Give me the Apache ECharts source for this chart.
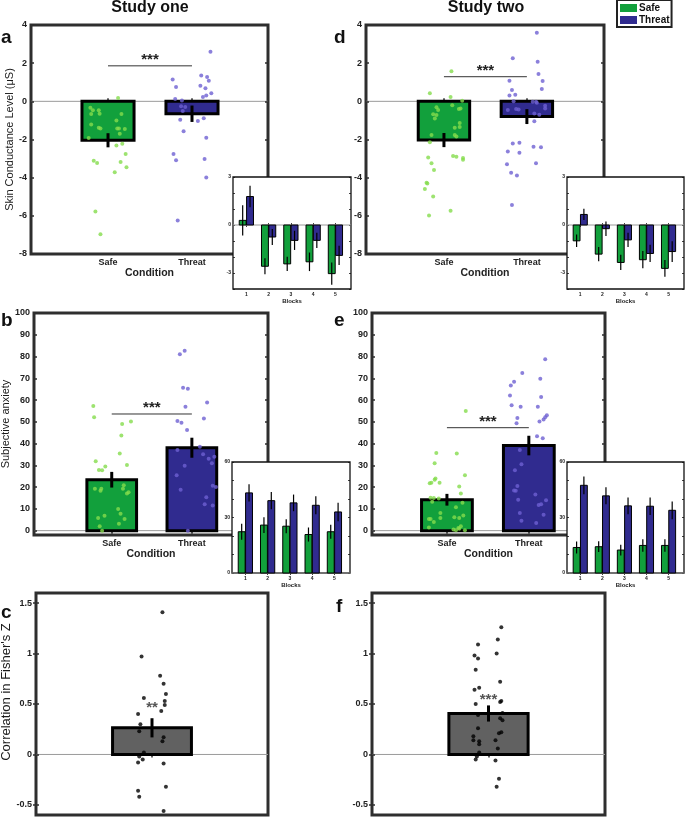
<!DOCTYPE html>
<html><head><meta charset="utf-8">
<script src="https://cdn.jsdelivr.net/npm/echarts@6/dist/echarts.min.js"></script>
<style>html,body{margin:0;padding:0;background:#fff}#c{width:685px;height:817px}</style>
</head><body><div id="c"></div><script>
// ---------- DATA ----------
const condLabels = ['Safe', 'Threat'];
const condX = [1, 2];
const blocks = [1, 2, 3, 4, 5];
const baseline = [0];

// Panel a / d : skin conductance (means, SEM)
const scrMean1 = [-2.04, -0.65], scrErr1 = [0.37, 0.43];
const scrMean2 = [-2.03, -0.80], scrErr2 = [0.37, 0.39];
// Panel b / e : subjective anxiety
const anxMean1 = [23.4, 38.1], anxErr1 = [3.6, 4.6];
const anxMean2 = [14.2, 39.1], anxErr2 = [2.7, 4.5];
// Panel c / f : correlation (Fisher's Z)
const corrMean1 = [0.264], corrErr1 = [0.095];
const corrMean2 = [0.406], corrErr2 = [0.08];

// Block insets
const scrBlkSafe1 = [0.29, -2.58, -2.43, -2.30, -3.04], scrBlkSafeErr1 = [0.95, 0.5, 0.45, 0.58, 0.7];
const scrBlkThreat1 = [1.78, -0.75, -0.96, -0.96, -1.90], scrBlkThreatErr1 = [0.67, 0.5, 0.6, 0.47, 0.6];
const scrBlkSafe2 = [-0.99, -1.82, -2.34, -2.17, -2.71], scrBlkSafeErr2 = [0.39, 0.45, 0.48, 0.54, 0.53];
const scrBlkThreat2 = [0.66, -0.23, -0.93, -1.78, -1.66], scrBlkThreatErr2 = [0.35, 0.45, 0.45, 0.54, 0.65];
const anxBlkSafe1 = [22.3, 25.9, 25.3, 20.8, 22.3], anxBlkSafeErr1 = [4.3, 4.3, 3.8, 3.8, 3.8];
const anxBlkThreat1 = [43.3, 39.1, 37.9, 36.6, 33.0], anxBlkThreatErr1 = [4.7, 4.7, 4.5, 4.9, 5.0];
const anxBlkSafe2 = [13.8, 14.2, 12.4, 14.9, 14.9], anxBlkSafeErr2 = [3.2, 2.9, 2.9, 3.4, 3.4];
const anxBlkThreat2 = [47.4, 41.7, 36.3, 36.1, 33.9], anxBlkThreatErr2 = [4.8, 4.6, 4.5, 4.7, 4.8];

// Significance lines (level) and marks
const sigLevel = { a: 1.86, d: 1.29, b: 53.6, e: 47.3 };
const sigText = '***';
const corrStarY = [0.49, 0.57];
const corrStars = ['**', '***'];

// Tick values
const scrTicks = [-8, -6, -4, -2, 0, 2, 4];
const anxTicks = [0, 10, 20, 30, 40, 50, 60, 70, 80, 90, 100];
const corrTicks = [-0.5, 0, 0.5, 1, 1.5];
const blkScrTicks = [-4, -3, -2, -1, 0, 1, 2, 3];
const blkScrLabels = [-3, 0, 3];
const blkAnxTicks = [0, 10, 20, 30, 40, 50, 60];
const blkAnxLabels = [0, 30, 60];

// Individual participants [jittered x, value]
const ptsSafeA = [[1.12,0.17],[0.79,-0.33],[0.82,-0.47],[0.89,-0.47],[0.80,-0.66],[0.90,-0.65],[1.16,-0.66],[1.10,-1.0],[0.80,-1.22],[0.89,-1.38],[0.91,-1.42],[1.11,-1.43],[1.13,-1.43],[1.20,-1.45],[1.14,-1.70],[0.77,-1.92],[1.17,-2.22],[1.10,-2.31],[1.21,-2.76],[0.83,-3.11],[0.87,-3.23],[1.15,-3.18],[1.22,-3.46],[1.08,-3.72],[0.85,-5.77],[0.91,-6.96]];
const ptsThreatA = [[2.22,2.60],[2.11,1.35],[1.77,1.14],[2.18,1.28],[2.20,1.08],[1.81,0.75],[2.10,0.82],[2.16,0.68],[2.23,0.42],[2.17,0.30],[2.13,0.23],[1.80,0.12],[1.88,0.05],[1.87,-0.26],[1.92,-0.30],[1.89,-0.51],[1.86,-0.96],[2.14,-0.89],[2.07,-1.03],[1.90,-1.57],[2.17,-1.91],[1.78,-2.76],[1.81,-3.09],[2.15,-3.02],[2.17,-3.99],[1.83,-6.24]];
const ptsSafeD = [[1.09,1.57],[0.83,0.43],[1.08,0.23],[1.22,0.03],[1.10,-0.21],[0.91,-0.31],[0.93,-0.45],[1.20,-0.37],[1.18,-0.40],[0.87,-0.68],[0.91,-0.71],[0.89,-0.90],[1.19,-1.13],[1.19,-1.34],[1.13,-1.39],[1.13,-1.77],[1.15,-1.84],[0.85,-1.77],[0.83,-2.14],[0.81,-2.94],[1.11,-2.87],[1.15,-2.90],[1.23,-2.97],[1.23,-3.06],[0.85,-3.25],[0.88,-3.60],[0.79,-4.26],[0.80,-4.31],[0.77,-4.59],[0.87,-4.99],[1.08,-5.74],[0.82,-5.98]];
const ptsThreatD = [[2.12,3.6],[1.83,2.26],[2.13,2.07],[2.14,1.43],[1.79,1.08],[2.19,1.06],[1.82,0.59],[2.18,0.64],[1.86,0.35],[1.79,0.30],[1.84,0.0],[2.07,-0.02],[2.11,-0.02],[2.12,-0.07],[2.22,-0.23],[2.22,-0.38],[1.77,-0.45],[1.87,-0.40],[1.90,-0.43],[2.09,-0.64],[2.15,-0.70],[2.09,-1.04],[1.83,-2.21],[1.91,-2.17],[1.77,-2.63],[1.91,-2.70],[2.08,-2.38],[2.17,-2.40],[2.11,-3.25],[1.76,-3.30],[1.81,-3.74],[1.88,-3.88],[1.82,-5.43]];
const ptsSafeB = [[0.77,57.3],[0.78,52.1],[1.24,50.1],[1.13,49.0],[1.12,43.7],[1.10,35.4],[0.80,31.9],[0.84,27.9],[0.88,27.8],[0.92,29.5],[1.19,30.2],[0.79,19.2],[0.87,19.2],[0.86,18.3],[1.15,20.9],[1.14,19.2],[1.21,17.6],[1.19,17.1],[1.08,9.9],[1.11,7.8],[0.91,6.9],[0.83,5.8],[1.16,5.3],[1.09,3.2],[0.85,2.0],[0.88,0.0]];
const ptsThreatB = [[1.91,82.6],[1.85,81.1],[1.89,65.6],[1.95,65.2],[2.19,58.9],[1.92,56.9],[2.15,51.5],[1.82,50.4],[1.87,49.6],[1.94,46.3],[2.10,38.6],[1.82,37.1],[2.14,35.1],[2.28,34.0],[2.21,33.0],[2.25,31.0],[1.91,29.8],[1.81,25.5],[2.26,20.6],[2.30,20.0],[1.86,18.8],[2.18,15.4],[2.16,12.1],[2.26,11.6],[1.95,0.0]];
const ptsSafeE = [[1.23,55.0],[0.87,35.7],[1.12,35.4],[0.85,31.0],[0.86,24.0],[0.85,23.4],[0.79,21.8],[0.81,22.0],[0.91,22.0],[1.22,25.5],[1.15,20.3],[1.17,17.1],[0.80,15.1],[0.84,15.0],[0.90,14.8],[0.82,13.3],[1.19,12.8],[0.92,8.1],[1.11,10.8],[1.20,7.0],[1.09,6.1],[0.78,5.3],[0.80,5.3],[0.92,5.8],[0.84,4.0],[1.15,5.8],[0.78,1.4],[1.17,2.0],[1.15,0.9],[1.08,0.5],[1.11,0.2],[1.22,0.2],[1.14,1.2]];
const ptsThreatE = [[2.20,78.8],[1.92,72.4],[1.82,68.4],[1.78,66.7],[2.14,69.8],[2.15,61.4],[1.77,62.1],[1.79,57.6],[1.90,56.9],[2.11,56.9],[1.86,51.8],[1.85,49.3],[2.22,53.0],[2.20,52.1],[2.18,51.1],[2.13,50.1],[2.10,43.4],[2.17,42.4],[1.89,37.1],[1.91,30.5],[1.83,27.8],[1.86,20.5],[1.82,18.5],[1.84,18.3],[1.87,14.2],[2.08,16.6],[2.21,14.0],[2.12,11.8],[2.15,12.1],[1.89,8.1],[2.18,7.3],[1.91,4.6],[2.09,3.5]];
const ptsC = [[1.09,1.41],[0.91,0.97],[1.07,0.78],[1.10,0.70],[1.12,0.60],[0.93,0.56],[1.11,0.53],[1.11,0.49],[1.08,0.43],[0.88,0.40],[0.90,0.30],[0.89,0.23],[1.10,0.17],[1.09,0.13],[0.93,0.02],[0.89,-0.02],[0.92,-0.05],[0.88,-0.08],[1.10,-0.09],[1.12,-0.32],[0.88,-0.36],[0.89,-0.42],[1.10,-0.56]];
const ptsF = [[1.11,1.26],[1.08,1.14],[0.91,1.09],[0.88,0.98],[0.91,0.95],[1.07,1.00],[0.89,0.84],[1.10,0.72],[0.92,0.66],[0.88,0.64],[1.11,0.53],[1.10,0.52],[0.89,0.50],[1.12,0.41],[0.91,0.39],[1.10,0.36],[1.12,0.34],[0.91,0.26],[1.11,0.22],[1.09,0.21],[0.87,0.18],[0.87,0.14],[0.92,0.13],[1.06,0.14],[0.92,0.10],[1.08,0.06],[0.92,0.02],[0.90,-0.02],[0.89,-0.05],[1.06,-0.06],[1.09,-0.24],[1.07,-0.32]];

// ---------- STYLE ----------
const FONT = '"Liberation Sans", Arial, Helvetica, sans-serif';
const GREEN = '#12a03c', BLUE = '#302b8f', GRAY = '#616161';
const GREEN_PT = '#84dc4c', BLUE_PT = '#6e60d2';
const BOX = '#2e2e2e';

const grids = [], xAxes = [], yAxes = [], series = [];

function addPanel(o) {
  const gi = grids.length;
  const inset = !!o.inset;
  grids.push({ left: o.left, top: o.top, width: o.width, height: o.height, show: true,
    backgroundColor: inset ? '#fff' : 'rgba(0,0,0,0)', borderColor: inset ? '#111' : BOX,
    borderWidth: inset ? 1.3 : 3, z: inset ? 10 : 0, outerBoundsMode: 'none', containLabel: false });
  const z = inset ? 11 : 1;
  const ts = { color: inset ? '#111' : BOX, width: inset ? 0.8 : 1.5 };
  const tl = inset ? 2 : 3;
  const lblFs = inset ? 5 : 9;
  const xi = xAxes.length;
  xAxes.push({ type: 'value', gridIndex: gi, position: 'bottom', min: o.xmin, max: o.xmax, z,
    axisLine: { show: false }, splitLine: { show: false },
    axisTick: { show: true, inside: true, length: tl, lineStyle: ts, customValues: o.xTicks },
    axisLabel: { show: !!o.xLabels, customValues: o.xLabels || [], formatter: o.xFmt || (v => String(v)),
      fontFamily: FONT, fontSize: lblFs, fontWeight: 'bold', color: '#222', margin: inset ? 3 : 4 },
    name: o.xName || '', nameLocation: 'middle', nameGap: inset ? 8 : 13,
    nameTextStyle: { fontFamily: FONT, fontSize: inset ? 6 : 10.5, fontWeight: 'bold', color: '#222' } });
  xAxes.push({ type: 'value', gridIndex: gi, position: 'top', min: o.xmin, max: o.xmax, z,
    axisLine: { show: false }, splitLine: { show: false },
    axisTick: { show: true, inside: true, length: tl, lineStyle: ts, customValues: o.xTicks },
    axisLabel: { show: false } });
  const yi = yAxes.length;
  yAxes.push({ type: 'value', gridIndex: gi, position: 'left', min: o.ymin, max: o.ymax, z,
    axisLine: { show: false }, splitLine: { show: false },
    axisTick: { show: true, inside: true, length: tl, lineStyle: ts, customValues: o.yTicks },
    axisLabel: { customValues: o.yLabels, formatter: v => String(v), fontFamily: FONT, fontSize: lblFs,
      fontWeight: 'bold', color: '#222', margin: inset ? 2 : 4 },
    name: o.yName || '', nameLocation: 'middle', nameGap: o.yNameGap || 12, nameRotate: 90,
    nameTextStyle: { fontFamily: FONT, fontSize: o.yNameFs || 11, color: '#1a1a1a', padding: o.yNamePad || 0 } });
  yAxes.push({ type: 'value', gridIndex: gi, position: 'right', min: o.ymin, max: o.ymax, z,
    axisLine: { show: false }, splitLine: { show: false },
    axisTick: { show: true, inside: true, length: tl, lineStyle: ts, customValues: o.yTicks },
    axisLabel: { show: false } });
  return { xi, yi, inset };
}

function barRender(halfW, fill, lw) {
  return function (params, api) {
    const x = api.value(0), v = api.value(1);
    const a = api.coord([x - halfW, v]), b = api.coord([x + halfW, 0]);
    return { type: 'rect', shape: { x: a[0], y: Math.min(a[1], b[1]), width: b[0] - a[0], height: Math.abs(b[1] - a[1]) },
      style: { fill: fill, stroke: '#000', lineWidth: lw } };
  };
}
function errRender(lw) {
  return function (params, api) {
    const x = api.value(0), v = api.value(1), e = api.value(2);
    const a = api.coord([x, v - e]), b = api.coord([x, v + e]);
    return { type: 'line', shape: { x1: a[0], y1: a[1], x2: b[0], y2: b[1] }, style: { stroke: '#000', lineWidth: lw } };
  };
}
function zeroRender(params, api) {
  const cs = params.coordSys;
  const y = api.coord([1, api.value(0)])[1];
  return { type: 'line', shape: { x1: cs.x, y1: y, x2: cs.x + cs.width, y2: y }, style: { stroke: '#9a9a9a', lineWidth: 1 } };
}
function sigRender(params, api) {
  const x1 = api.value(0), x2 = api.value(1), y = api.value(2);
  const a = api.coord([x1, y]), b = api.coord([x2, y]);
  return { type: 'group', children: [
    { type: 'line', shape: { x1: a[0], y1: a[1], x2: b[0], y2: b[1] }, style: { stroke: '#333', lineWidth: 1 } },
    { type: 'text', x: (a[0] + b[0]) / 2, y: a[1] - 6, style: { text: sigText, fontFamily: FONT, fontSize: 15, fontWeight: 'bold', fill: '#222', align: 'center', verticalAlign: 'middle' } }
  ] };
}

function zeroLine(ax, z) {
  series.push({ type: 'custom', xAxisIndex: ax.xi, yAxisIndex: ax.yi, z: z, silent: true, data: [baseline], renderItem: zeroRender, encode: { y: 0 } });
}

function mainCond(ax, means, errs, ptsS, ptsT, sig) {
  zeroLine(ax, 1);
  series.push({ name: 'Safe', type: 'custom', xAxisIndex: ax.xi, yAxisIndex: ax.yi, z: 2, silent: true,
    data: [[condX[0], means[0], errs[0]]], renderItem: barRender(0.31, GREEN, 3), encode: { x: 0, y: 1 } });
  series.push({ name: 'Threat', type: 'custom', xAxisIndex: ax.xi, yAxisIndex: ax.yi, z: 2, silent: true,
    data: [[condX[1], means[1], errs[1]]], renderItem: barRender(0.31, BLUE, 3), encode: { x: 0, y: 1 } });
  series.push({ type: 'scatter', xAxisIndex: ax.xi, yAxisIndex: ax.yi, z: 3, silent: true, symbolSize: 4,
    itemStyle: { color: GREEN_PT }, data: ptsS });
  series.push({ type: 'scatter', xAxisIndex: ax.xi, yAxisIndex: ax.yi, z: 3, silent: true, symbolSize: 4,
    itemStyle: { color: BLUE_PT }, data: ptsT });
  series.push({ type: 'custom', xAxisIndex: ax.xi, yAxisIndex: ax.yi, z: 4, silent: true,
    data: condX.map((x, i) => [x, means[i], errs[i]]), renderItem: errRender(3), encode: { x: 0, y: 1 } });
  series.push({ type: 'custom', xAxisIndex: ax.xi, yAxisIndex: ax.yi, z: 4, silent: true,
    data: [[condX[0], condX[1], sig]], renderItem: sigRender });
}

function corrPanel(ax, mean, err, pts, starY, starTxt) {
  zeroLine(ax, 1);
  series.push({ type: 'custom', xAxisIndex: ax.xi, yAxisIndex: ax.yi, z: 2, silent: true,
    data: [[1, mean[0], err[0]]], renderItem: barRender(0.34, GRAY, 3), encode: { x: 0, y: 1 } });
  series.push({ type: 'scatter', xAxisIndex: ax.xi, yAxisIndex: ax.yi, z: 3, silent: true, symbolSize: 4,
    itemStyle: { color: '#000' }, data: pts });
  series.push({ type: 'custom', xAxisIndex: ax.xi, yAxisIndex: ax.yi, z: 4, silent: true,
    data: [[1, mean[0], err[0]]], renderItem: errRender(3), encode: { x: 0, y: 1 } });
  series.push({ type: 'custom', xAxisIndex: ax.xi, yAxisIndex: ax.yi, z: 5, silent: true,
    data: [[starY]], renderItem: function (params, api) {
      const p = api.coord([1, api.value(0)]);
      return { type: 'text', x: p[0], y: p[1] + 3, style: { text: starTxt, fontFamily: FONT, fontSize: 15, fontWeight: 'bold', fill: '#555', align: 'center', verticalAlign: 'middle' } };
    } });
}

function insetBlocks(ax, safe, safeErr, threat, threatErr) {
  zeroLine(ax, 12);
  const off = 0.165, hw = 0.155;
  const sd = blocks.map((b, i) => [b - off, safe[i], safeErr[i]]);
  const td = blocks.map((b, i) => [b + off, threat[i], threatErr[i]]);
  series.push({ name: 'Safe', type: 'custom', xAxisIndex: ax.xi, yAxisIndex: ax.yi, z: 13, silent: true,
    data: sd, renderItem: barRender(hw, GREEN, 1), encode: { x: 0, y: 1 } });
  series.push({ name: 'Threat', type: 'custom', xAxisIndex: ax.xi, yAxisIndex: ax.yi, z: 13, silent: true,
    data: td, renderItem: barRender(hw, BLUE, 1), encode: { x: 0, y: 1 } });
  series.push({ type: 'custom', xAxisIndex: ax.xi, yAxisIndex: ax.yi, z: 14, silent: true,
    data: sd.concat(td), renderItem: errRender(1.2), encode: { x: 0, y: 1 } });
}

const condFmt = v => condLabels[Math.round(v) - 1];

const pA = addPanel({ left: 31, top: 25, width: 237, height: 229, xmin: 0.083, xmax: 2.905, ymin: -8, ymax: 4,
  xTicks: condX, xLabels: condX, xFmt: condFmt, xName: 'Condition', yTicks: scrTicks, yLabels: scrTicks,
  yName: 'Skin Conductance Level (μS)', yNameGap: 12, yNameFs: 11 });
const pD = addPanel({ left: 366, top: 25, width: 238, height: 229, xmin: 0.06, xmax: 2.93, ymin: -8, ymax: 4,
  xTicks: condX, xLabels: condX, xFmt: condFmt, xName: 'Condition', yTicks: scrTicks, yLabels: scrTicks });
const pB = addPanel({ left: 34, top: 313, width: 234, height: 222, xmin: 0.03, xmax: 2.95, ymin: -2, ymax: 100,
  xTicks: condX, xLabels: condX, xFmt: condFmt, xName: 'Condition', yTicks: anxTicks, yLabels: anxTicks,
  yName: 'Subjective anxiety', yNameGap: 15, yNameFs: 11 });
const pE = addPanel({ left: 372, top: 313, width: 233, height: 222, xmin: 0.085, xmax: 2.93, ymin: -2, ymax: 100,
  xTicks: condX, xLabels: condX, xFmt: condFmt, xName: 'Condition', yTicks: anxTicks, yLabels: anxTicks });
const pC = addPanel({ left: 36, top: 593, width: 232, height: 222, xmin: 0, xmax: 2, ymin: -0.6, ymax: 1.6,
  xTicks: [1], yTicks: corrTicks, yLabels: corrTicks, yName: "Correlation in Fisher's Z", yNameGap: 15, yNameFs: 13,
  yNamePad: [0, 0, 0, 24] });
const pF = addPanel({ left: 372, top: 593, width: 233, height: 222, xmin: 0, xmax: 2, ymin: -0.6, ymax: 1.6,
  xTicks: [1], yTicks: corrTicks, yLabels: corrTicks });
const iA = addPanel({ inset: true, left: 233, top: 177, width: 118, height: 112, xmin: 0.4, xmax: 5.7, ymin: -4, ymax: 3,
  xTicks: blocks, xLabels: blocks, xName: 'Blocks', yTicks: blkScrTicks, yLabels: blkScrLabels });
const iD = addPanel({ inset: true, left: 567, top: 177, width: 117, height: 112, xmin: 0.4, xmax: 5.7, ymin: -4, ymax: 3,
  xTicks: blocks, xLabels: blocks, xName: 'Blocks', yTicks: blkScrTicks, yLabels: blkScrLabels });
const iB = addPanel({ inset: true, left: 232, top: 462, width: 118, height: 111, xmin: 0.4, xmax: 5.7, ymin: 0, ymax: 60,
  xTicks: blocks, xLabels: blocks, xName: 'Blocks', yTicks: blkAnxTicks, yLabels: blkAnxLabels });
const iE = addPanel({ inset: true, left: 567, top: 462, width: 117, height: 111, xmin: 0.4, xmax: 5.7, ymin: 0, ymax: 60,
  xTicks: blocks, xLabels: blocks, xName: 'Blocks', yTicks: blkAnxTicks, yLabels: blkAnxLabels });

mainCond(pA, scrMean1, scrErr1, ptsSafeA, ptsThreatA, sigLevel.a);
mainCond(pD, scrMean2, scrErr2, ptsSafeD, ptsThreatD, sigLevel.d);
mainCond(pB, anxMean1, anxErr1, ptsSafeB, ptsThreatB, sigLevel.b);
mainCond(pE, anxMean2, anxErr2, ptsSafeE, ptsThreatE, sigLevel.e);
corrPanel(pC, corrMean1, corrErr1, ptsC, corrStarY[0], corrStars[0]);
corrPanel(pF, corrMean2, corrErr2, ptsF, corrStarY[1], corrStars[1]);
insetBlocks(iA, scrBlkSafe1, scrBlkSafeErr1, scrBlkThreat1, scrBlkThreatErr1);
insetBlocks(iD, scrBlkSafe2, scrBlkSafeErr2, scrBlkThreat2, scrBlkThreatErr2);
insetBlocks(iB, anxBlkSafe1, anxBlkSafeErr1, anxBlkThreat1, anxBlkThreatErr1);
insetBlocks(iE, anxBlkSafe2, anxBlkSafeErr2, anxBlkThreat2, anxBlkThreatErr2);

function txt(text, x, y, size, align) {
  return { type: 'text', x: x, y: y, z: 50, silent: true,
    style: { text: text, fontFamily: FONT, fontSize: size, fontWeight: 'bold', fill: '#111', align: align || 'left', verticalAlign: 'middle' } };
}

const chart = echarts.init(document.getElementById('c'), null, { renderer: 'canvas' });
chart.setOption({
  animation: false,
  backgroundColor: '#fff',
  grid: grids, xAxis: xAxes, yAxis: yAxes, series: series,
  legend: { left: 617, top: 0, orient: 'vertical', itemWidth: 17, itemHeight: 8, itemGap: 2,
    padding: [3, 2, 2, 3], borderColor: '#222', borderWidth: 2, icon: 'rect', selectedMode: false, z: 60,
    textStyle: { fontFamily: FONT, fontSize: 10, fontWeight: 'bold', color: '#111', padding: [0, 0, 0, -3] },
    data: [{ name: 'Safe', itemStyle: { color: GREEN } }, { name: 'Threat', itemStyle: { color: BLUE } }] },
  graphic: [
    txt('Study one', 150, 8, 16, 'center'),
    txt('Study two', 486, 8, 16, 'center'),
    txt('a', 1, 38, 19), txt('b', 1, 321, 19), txt('c', 1, 613, 19),
    txt('d', 334, 38, 19), txt('e', 334, 321, 19), txt('f', 336, 607, 19)
  ]
});
</script></body></html>
